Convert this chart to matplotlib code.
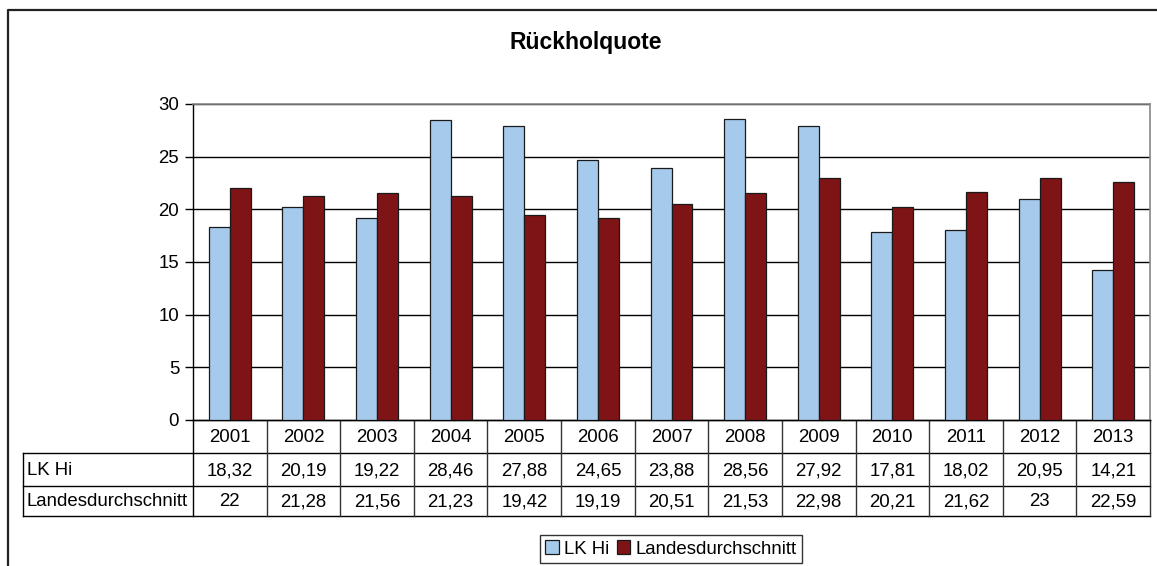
import matplotlib
matplotlib.use("Agg")
import matplotlib.pyplot as plt
import numpy as np
from matplotlib.patches import Patch

plt.rcParams['font.family'] = ['Liberation Sans', 'DejaVu Sans']

title = "Rückholquote"
years = ["2001", "2002", "2003", "2004", "2005", "2006", "2007",
         "2008", "2009", "2010", "2011", "2012", "2013"]
series_names = ["LK Hi", "Landesdurchschnitt"]
lk_hi = [18.32, 20.19, 19.22, 28.46, 27.88, 24.65, 23.88, 28.56, 27.92, 17.81, 18.02, 20.95, 14.21]
landes = [22, 21.28, 21.56, 21.23, 19.42, 19.19, 20.51, 21.53, 22.98, 20.21, 21.62, 23, 22.59]
yticks = [0, 5, 10, 15, 20, 25, 30]

c_blue = "#A6CAEC"
c_red = "#7F1416"

W, H = 1157, 566
fig = plt.figure(figsize=(W / 100, H / 100), dpi=100)

def fx(px):
    return px / W

def fy(py):
    return 1 - py / H

L, R, T, B = 193, 1150, 104, 420
ax = fig.add_axes([fx(L), fy(B), fx(R) - fx(L), fy(T) - fy(B)])
x = np.arange(len(years))
bw = 0.285
ax.bar(x - bw / 2, lk_hi, bw, color=c_blue, edgecolor="#1a1a1a", linewidth=0.9, zorder=3)
ax.bar(x + bw / 2, landes, bw, color=c_red, edgecolor="#1a1a1a", linewidth=0.9, zorder=3)
ax.set_xlim(-0.5, len(years) - 0.5)
ax.set_ylim(0, 30)
ax.set_yticks(yticks)
ax.set_yticklabels([str(v) for v in yticks], fontsize=13.4)
ax.set_xticks([])
ax.tick_params(axis="y", length=6, width=1, pad=4, color="black")
ax.yaxis.grid(True, color="black", linewidth=1)
ax.set_axisbelow(True)
for s in ["top", "right"]:
    ax.spines[s].set_color("#888888")
    ax.spines[s].set_linewidth(1.2)
ax.spines["left"].set_color("black")
ax.spines["bottom"].set_color("black")
ax.spines["left"].set_linewidth(1)
ax.spines["bottom"].set_linewidth(1)

# overlay in pixel coordinates for table, border, title
ov = fig.add_axes([0, 0, 1, 1], zorder=-1)
ov.set_xlim(0, W)
ov.set_ylim(H, 0)
ov.axis("off")

fig.canvas.draw()
inv = ov.transData.inverted()

def cat_px(v):
    return inv.transform(ax.transData.transform((v, 0)))[0]

bounds = [cat_px(i - 0.5) for i in range(len(years) + 1)]
centers = [cat_px(i) for i in range(len(years))]

rows_y = [420, 453, 486, 516]
lbl_left = 23
lc = "black"
lw = 1.0
# horizontal lines
ov.plot([bounds[0], bounds[-1]], [rows_y[0]] * 2, color=lc, lw=lw)
for yy in rows_y[1:]:
    ov.plot([lbl_left, bounds[-1]], [yy] * 2, color=lc, lw=lw)
# vertical lines
for i, bx in enumerate(bounds):
    ov.plot([bx, bx], [rows_y[0], rows_y[-1]], color=lc if i in (0,) else "#333333", lw=lw)
ov.plot([lbl_left, lbl_left], [rows_y[1], rows_y[-1]], color=lc, lw=lw)

def fmt(v):
    s = f"{v:.2f}".rstrip("0").rstrip(".")
    return s.replace(".", ",")

fs = 13.4
for i, c in enumerate(centers):
    ov.text(c, (rows_y[0] + rows_y[1]) / 2 + 1, years[i], ha="center", va="center", fontsize=fs)
    ov.text(c, (rows_y[1] + rows_y[2]) / 2 + 1, fmt(lk_hi[i]), ha="center", va="center", fontsize=fs)
    ov.text(c, (rows_y[2] + rows_y[3]) / 2 + 1, fmt(landes[i]), ha="center", va="center", fontsize=fs)
ov.text(lbl_left + 4, (rows_y[1] + rows_y[2]) / 2 + 1, series_names[0], ha="left", va="center", fontsize=fs)
ov.text(lbl_left + 4, (rows_y[2] + rows_y[3]) / 2 + 1, series_names[1], ha="left", va="center", fontsize=fs)

# outer border
ov.plot([8, 8, W + 5], [H + 5, 10, 10], color="#222222", lw=1.6, clip_on=False)

# title
ov.text(586, 43, title, ha="center", va="center", fontsize=16.5, fontweight="bold")

# legend
handles = [Patch(facecolor=c_blue, edgecolor="#1a1a1a", linewidth=0.9),
           Patch(facecolor=c_red, edgecolor="#1a1a1a", linewidth=0.9)]
leg = fig.legend(handles, series_names, loc="center", bbox_to_anchor=(fx(671), fy(549)),
                 ncol=2, fontsize=13.4, frameon=True, fancybox=False, edgecolor="black",
                 handlelength=0.7, handleheight=0.7, handletextpad=0.3, columnspacing=0.4,
                 borderpad=0.3, borderaxespad=0)
leg.get_frame().set_linewidth(1)

fig.savefig("out.png", dpi=100, facecolor="white")
